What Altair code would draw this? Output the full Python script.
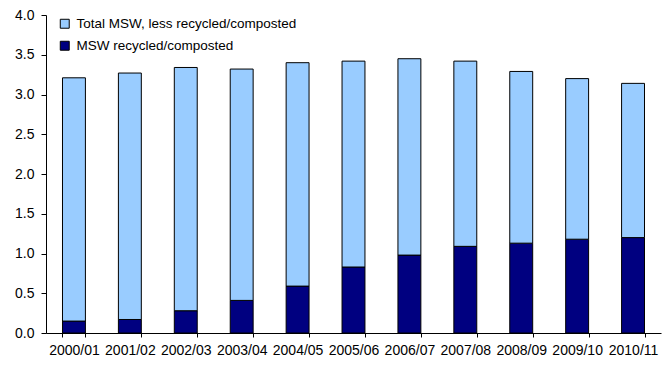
import altair as alt
import pandas as pd

years = ["2000/01", "2001/02", "2002/03", "2003/04", "2004/05", "2005/06",
         "2006/07", "2007/08", "2008/09", "2009/10", "2010/11"]
recycled = [0.15, 0.17, 0.28, 0.41, 0.59, 0.83, 0.98, 1.09, 1.13, 1.18, 1.20]
residual = [3.06, 3.10, 3.06, 2.91, 2.81, 2.59, 2.47, 2.33, 2.16, 2.02, 1.94]

s_res = "Total MSW, less recycled/composted"
s_rec = "MSW recycled/composted"

rows = []
for y, r, t in zip(years, recycled, residual):
    rows.append({"year": y, "series": s_rec, "value": r, "ord": 0})
    rows.append({"year": y, "series": s_res, "value": t, "ord": 1})
df = pd.DataFrame(rows)

chart = alt.Chart(df).mark_bar(stroke="black", strokeWidth=1).encode(
    x=alt.X("year:N", sort=years, title=None,
            scale=alt.Scale(paddingInner=0.59, paddingOuter=0.295),
            axis=alt.Axis(labelAngle=0, tickBand="extent", tickSize=4,
                          labelPadding=6, domainColor="black", tickColor="black",
                          labelColor="black", labelFontSize=14,
                          labelFont="Liberation Sans", grid=False)),
    y=alt.Y("value:Q", stack="zero", title=None,
            scale=alt.Scale(domain=[0, 4.0], nice=False),
            axis=alt.Axis(values=[0, 0.5, 1, 1.5, 2, 2.5, 3, 3.5, 4], format=".1f",
                          tickSize=5, labelPadding=7, domainColor="black",
                          tickColor="black", labelColor="black", labelFontSize=14,
                          labelFont="Liberation Sans", grid=False)),
    color=alt.Color("series:N",
                    scale=alt.Scale(domain=[s_res, s_rec], range=["#99CCFF", "#000080"]),
                    legend=alt.Legend(title=None, orient="none", legendX=12, legendY=2,
                                      symbolType="square", symbolSize=80,
                                      symbolStrokeColor="black", symbolStrokeWidth=1,
                                      labelFontSize=13.5, labelFont="Liberation Sans",
                                      labelColor="black", rowPadding=7, labelLimit=0,
                                      labelOffset=5, padding=0)),
    order=alt.Order("ord:Q"),
).properties(
    width=615, height=318,
    autosize=alt.AutoSizeParams(type="none"),
    padding={"left": 38, "top": 7, "right": 3, "bottom": 30},
).configure_view(stroke=None)

chart.save("out.html", embed_options={"renderer": "svg", "actions": False})
